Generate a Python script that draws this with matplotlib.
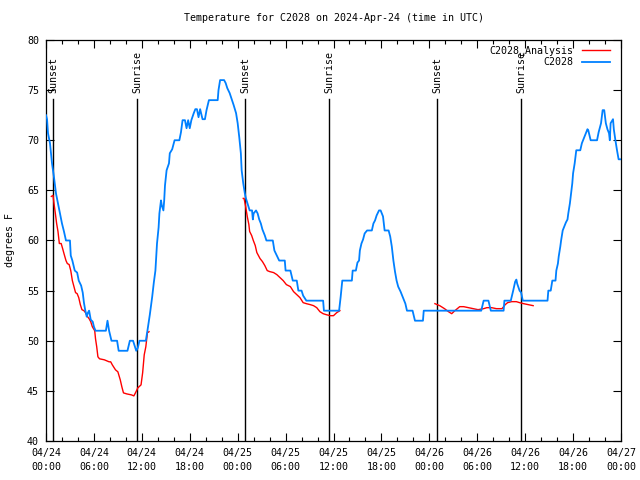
import matplotlib
matplotlib.use("Agg")
import matplotlib.pyplot as plt
from matplotlib.ticker import MultipleLocator, FixedLocator

title = "Temperature for C2028 on 2024-Apr-24 (time in UTC)"
ylabel = "degrees F"
series_obs = "C2028"
series_ana = "C2028\u2423Analysis"

# hours since 2024-04-24 00:00 UTC
blue_h = [0.0, 0.13, 0.25, 0.5, 0.75, 1.0, 1.25, 1.5, 1.75, 2.0, 2.25, 2.5, 3.0, 3.1, 3.3, 3.6, 3.9,
          4.1, 4.4, 4.6, 4.75, 4.9, 5.1, 5.25, 5.4, 5.6, 5.85, 6.0, 6.2, 7.5, 7.7, 7.9, 8.2, 8.9,
          9.1, 10.2, 10.5, 10.9, 11.3, 11.5, 11.7, 12.5, 12.7, 13.0, 13.3, 13.5, 13.7, 13.9, 14.1,
          14.2, 14.4, 14.5, 14.7, 14.8, 14.9, 15.1, 15.4, 15.5, 15.8, 16.1, 16.7, 16.9, 17.1, 17.4,
          17.6, 17.8, 18.0, 18.2, 18.5, 18.7, 18.9, 19.1, 19.3, 19.6, 19.9, 20.1, 20.4, 21.5, 21.6,
          21.8, 22.3, 22.5, 22.7, 23.0, 23.3, 23.5, 23.8, 24.0, 24.2, 24.4, 24.5, 24.7, 24.9, 25.0,
          25.3, 25.5, 25.8, 25.9, 26.0, 26.3, 26.5, 26.7, 26.9, 27.1, 27.4, 27.6, 28.4, 28.6, 28.9,
          29.2, 29.9, 30.0, 30.6, 30.9, 31.4, 31.6, 32.0, 32.2, 32.6, 34.7, 34.8, 36.7, 36.9, 37.1,
          38.3, 38.4, 38.8, 39.0, 39.2, 39.3, 39.5, 39.7, 39.9, 40.2, 40.8, 41.0, 41.2, 41.4, 41.7,
          41.9, 42.2, 42.4, 42.9, 43.1, 43.3, 43.5, 43.7, 43.9, 44.1, 44.4, 44.7, 45.0, 45.2, 45.9,
          46.2, 47.2, 47.3, 54.5, 54.8, 55.4, 55.7, 57.3, 57.4, 58.2, 58.5, 58.75, 58.9, 59.0, 59.3,
          59.5, 59.7, 62.8, 62.9, 63.2, 63.4, 63.8, 63.9, 64.1, 64.2, 64.4, 64.5, 64.7, 64.9, 65.1,
          65.3, 65.4, 65.6, 65.8, 65.9, 66.0, 66.2, 66.4, 66.9, 67.1, 67.3, 67.6, 67.8, 67.9, 68.2,
          69.0, 69.2, 69.5, 69.7, 69.9, 70.1, 70.3, 70.5, 70.6, 70.7, 71.0, 71.1, 71.3, 71.5, 71.7,
          72.0]
blue_t = [72.5, 72.1, 70.7, 69.7, 67.7, 66.3, 64.7, 63.7, 62.7, 61.7, 60.9, 60.0, 60.0, 58.5, 58.0,
          57.0, 56.8, 56.0, 55.5, 54.8, 53.8, 53.1, 52.4, 52.8, 53.0, 52.1, 51.9, 51.4, 51.0, 51.0,
          52.0, 51.0, 50.0, 50.0, 49.0, 49.0, 50.0, 50.0, 49.0, 49.3, 50.0, 50.0, 51.0, 52.6, 54.4,
          55.8, 57.0, 59.7, 61.3, 62.7, 64.0, 63.5, 63.0, 64.0, 65.5, 67.0, 67.7, 68.7, 69.1, 70.0,
          70.0, 70.8, 72.0, 72.0, 71.2, 72.0, 71.2, 72.0, 72.7, 73.1, 73.1, 72.3, 73.1, 72.1, 72.1,
          73.0, 74.0, 74.0, 75.0, 76.0, 76.0, 75.7, 75.2, 74.7, 74.0, 73.5, 72.7, 71.7, 70.3, 68.7,
          67.0, 65.7, 64.7, 64.3, 63.5, 63.0, 63.0, 62.1, 62.7, 63.0, 62.7, 62.1, 61.7, 61.1, 60.5,
          60.0, 60.0, 59.0, 58.5, 58.0, 58.0, 57.0, 57.0, 56.0, 56.0, 55.0, 55.0, 54.5, 54.0, 54.0,
          53.0, 53.0, 54.4, 56.0, 56.0, 57.0, 57.0, 57.8, 58.0, 59.0, 59.7, 60.1, 60.7, 61.0, 61.0,
          61.7, 62.0, 62.5, 63.0, 63.0, 62.4, 61.0, 61.0, 60.4, 59.4, 58.0, 56.9, 56.0, 55.4, 54.9,
          54.3, 53.7, 53.0, 53.0, 52.0, 52.0, 53.0, 53.0, 54.0, 54.0, 53.0, 53.0, 54.0, 54.0, 55.0,
          55.9, 56.1, 55.7, 55.0, 54.8, 54.0, 54.0, 55.0, 55.0, 56.0, 56.0, 57.0, 57.7, 58.4, 59.4,
          60.0, 61.0, 61.4, 61.8, 62.1, 62.7, 63.7, 65.0, 65.7, 66.7, 67.7, 69.0, 69.0, 69.7, 70.1,
          70.7, 71.1, 71.0, 70.0, 70.0, 70.8, 71.7, 73.0, 73.0, 71.7, 71.1, 70.7, 70.0, 71.7, 72.1,
          71.1, 70.0, 69.0, 68.1, 68.1]

red1_h = [0.67, 0.88, 1.0, 1.17, 1.33, 1.5, 1.67, 1.9, 2.08, 2.25, 2.5, 2.67, 2.9, 3.1, 3.3, 3.5,
          3.7, 3.9, 4.1, 4.3, 4.5, 4.75, 4.95, 5.2, 5.4, 5.6, 5.8, 6.1, 6.2, 6.35, 6.5, 6.7, 7.3,
          7.9, 8.1, 8.3, 8.7, 9.0, 9.3, 9.5, 9.7, 10.1, 10.7, 11.0, 11.2, 11.5, 11.9, 12.1, 12.3,
          12.5, 12.7, 12.9]
red1_t = [64.4, 64.5, 63.7, 62.7, 61.7, 60.9, 59.7, 59.7, 59.2, 58.7, 58.0, 57.7, 57.6, 57.0, 56.0,
          55.4, 54.8, 54.7, 54.3, 53.6, 53.1, 53.0, 52.8, 52.4, 52.2, 51.9, 51.4, 51.0, 50.2, 49.4,
          48.4, 48.2, 48.1, 47.9, 47.9, 47.6, 47.1, 46.9, 46.1, 45.4, 44.8, 44.7, 44.6, 44.5, 44.8,
          45.3, 45.6, 46.8, 48.6, 49.4, 50.8, 50.9]
red2_h = [24.7, 24.8, 25.0, 25.2, 25.4, 25.5, 25.75, 25.96, 26.2, 26.4, 26.6, 26.8, 27.1, 27.4, 27.7,
          28.0, 28.5, 28.9, 29.3, 29.7, 30.1, 30.6, 31.0, 31.4, 31.8, 32.2, 32.6, 33.1, 33.5, 33.9,
          34.3, 34.7, 35.1, 35.6, 36.0, 36.4, 36.8]
red2_t = [64.2, 64.2, 63.4, 62.4, 61.6, 60.9, 60.5, 60.0, 59.5, 58.8, 58.5, 58.2, 57.9, 57.5, 57.0,
          56.9, 56.8, 56.6, 56.3, 56.0, 55.6, 55.4, 54.9, 54.6, 54.3, 53.8, 53.7, 53.6, 53.5, 53.3,
          52.9, 52.7, 52.6, 52.5, 52.5, 52.8, 53.0]
red3_h = [48.7, 49.3, 49.9, 50.4, 50.8, 51.2, 51.8, 52.3, 52.9, 53.5, 54.1, 54.8, 55.2, 55.8, 56.4,
          57.1, 57.5, 57.8, 58.3, 58.9, 59.3, 59.8, 60.4, 61.0]
red3_t = [53.7, 53.5, 53.2, 52.9, 52.7, 53.0, 53.4, 53.4, 53.3, 53.2, 53.1, 53.2, 53.3, 53.3, 53.2,
          53.2, 53.6, 53.8, 53.9, 53.9, 53.8, 53.7, 53.6, 53.5]

sun_h = [0.88, 11.39, 24.92, 35.44, 48.96, 59.48]
sun_labels = ["Sunset", "Sunrise", "Sunset", "Sunrise", "Sunset", "Sunrise"]

xtick_h = [0, 6, 12, 18, 24, 30, 36, 42, 48, 54, 60, 66, 72]
xtick_labels = ["04/24\n00:00", "04/24\n06:00", "04/24\n12:00", "04/24\n18:00",
                "04/25\n00:00", "04/25\n06:00", "04/25\n12:00", "04/25\n18:00",
                "04/26\n00:00", "04/26\n06:00", "04/26\n12:00", "04/26\n18:00",
                "04/27\n00:00"]
ytick_vals = [40, 45, 50, 55, 60, 65, 70, 75, 80]

plt.rcParams['font.family'] = ['DejaVu Sans Mono']
fs = 7.2
fig = plt.figure(figsize=(6.4, 4.8), dpi=100)
ax = fig.add_axes([46/640, 1-441/480, (621-46)/640, (441-40)/480])
ax.set_xlim(0, 72)
ax.set_ylim(40, 80)

blue = '#0080ff'
red = '#ff0000'
for i, (h, lab) in enumerate(zip(sun_h, sun_labels)):
    ax.plot([h, h], [40, 74.1], color='black', lw=1.0, zorder=1)
    ax.text(h, 74.7, lab, rotation=90, ha='center', va='bottom', fontsize=fs, zorder=2)

ax.plot(red1_h, red1_t, color=red, lw=1.0, zorder=3, label=series_ana)
ax.plot(red2_h, red2_t, color=red, lw=1.0, zorder=3)
ax.plot(red3_h, red3_t, color=red, lw=1.0, zorder=3)
ax.plot(blue_h, blue_t, color=blue, lw=1.3, zorder=4, label=series_obs)

ax.xaxis.set_major_locator(FixedLocator(xtick_h))
ax.set_xticklabels(xtick_labels, fontsize=fs, linespacing=1.45)
ax.xaxis.set_minor_locator(MultipleLocator(2))
ax.yaxis.set_major_locator(FixedLocator(ytick_vals))
ax.set_yticklabels([str(v) for v in ytick_vals], fontsize=fs)
ax.tick_params(which='major', direction='in', length=6, width=0.8, top=True, right=True, pad=5)
ax.tick_params(which='minor', direction='in', length=3, width=0.8, top=True, right=True)
for s in ax.spines.values():
    s.set_linewidth(0.9)

ax.set_title(title, fontsize=fs, pad=14)
ax.set_ylabel(ylabel, fontsize=fs, labelpad=9)

leg = ax.legend(loc='upper right', bbox_to_anchor=(0.992, 1.0), fontsize=fs, frameon=False,
                markerfirst=False, handlelength=2.8, handletextpad=0.9, borderaxespad=0.1,
                labelspacing=0.15, borderpad=0.5)
for t in leg.get_texts():
    t.set_ha('right')

fig.savefig('out.png', dpi=100)
